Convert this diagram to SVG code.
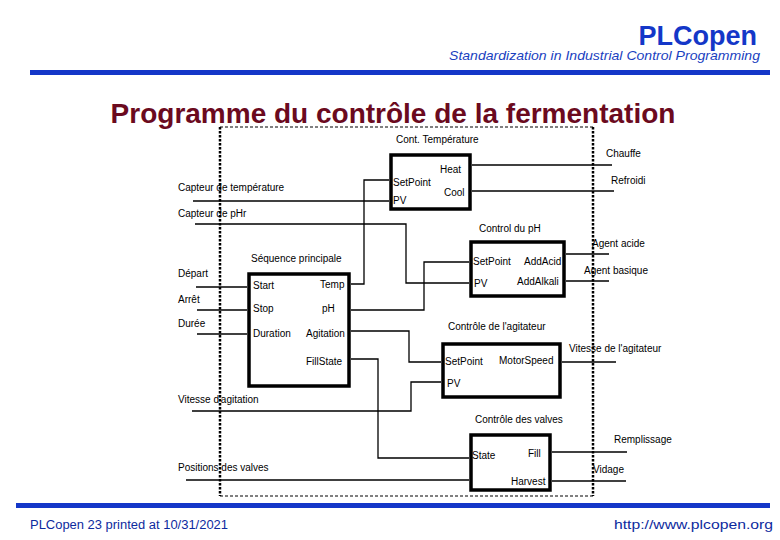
<svg xmlns="http://www.w3.org/2000/svg" width="780" height="540" viewBox="0 0 780 540">
<style>
.lbl{font-family:"Liberation Sans",Arial,sans-serif;font-size:10px;fill:#000}
.blk{fill:none;stroke:#000;stroke-width:3.5}
.w{fill:none;stroke:#000;stroke-width:1.3}
.fh{fill:none;stroke:#000;stroke-width:1;stroke-dasharray:3,2}
.fv{fill:none;stroke:#000;stroke-width:2.5;stroke-dasharray:2.5,1.5}
</style>
<rect width="780" height="540" fill="#fff"/>
<g id="header">
<text x="757" y="45" text-anchor="end" font-family="'Liberation Sans',Arial,sans-serif" font-size="27" font-weight="bold" fill="#1437c8">PLCopen</text>
<text x="760" y="60" text-anchor="end" font-family="'Liberation Sans',Arial,sans-serif" font-size="13" font-style="italic" fill="#1a3fbf" textLength="311" lengthAdjust="spacingAndGlyphs">Standardization in Industrial Control Programming</text>
<rect x="30" y="70" width="740" height="5" fill="#1437c8"/>
<text x="393" y="123" text-anchor="middle" font-family="'Liberation Sans',Arial,sans-serif" font-size="28" font-weight="bold" fill="#6b0a1e">Programme du contrôle de la fermentation</text>
</g>
<g id="frame">
<path class="fh" d="M220 127 H593 M220 496 H593"/>
<path class="fv" d="M220 127 V496 M593 127 V496"/>
</g>
<g id="connectors">
<path class="w" d="M193 201 H389"/>
<path class="w" d="M195 224 H406 V283 H469"/>
<path class="w" d="M351 284 H364 V180 H389"/>
<path class="w" d="M472 165 H612"/>
<path class="w" d="M472 191 H614"/>
<path class="w" d="M351 310 H424 V262 H469"/>
<path class="w" d="M566 254 H609"/>
<path class="w" d="M566 281 H609"/>
<path class="w" d="M196 287 H247"/>
<path class="w" d="M197 310 H247"/>
<path class="w" d="M197 334 H247"/>
<path class="w" d="M351 331 H409 V362 H441"/>
<path class="w" d="M192 411 H411 V382 H441"/>
<path class="w" d="M562 362 H616"/>
<path class="w" d="M351 359 H378 V458 H469"/>
<path class="w" d="M186 480 H469"/>
<path class="w" d="M552 452 H627"/>
<path class="w" d="M552 481 H626"/>
</g>
<g id="io-labels">
<text class="lbl" x="178" y="191">Capteur de température</text>
<text class="lbl" x="178" y="217">Capteur de pHr</text>
<text class="lbl" x="606" y="157">Chauffe</text>
<text class="lbl" x="611" y="184">Refroidi</text>
<text class="lbl" x="592" y="247">Agent acide</text>
<text class="lbl" x="584" y="274">Agent basique</text>
<text class="lbl" x="178" y="277">Départ</text>
<text class="lbl" x="178" y="303">Arrêt</text>
<text class="lbl" x="178" y="327">Durée</text>
<text class="lbl" x="569" y="352">Vitesse de l'agitateur</text>
<text class="lbl" x="178" y="403">Vitesse d'agitation</text>
<text class="lbl" x="614" y="443">Remplissage</text>
<text class="lbl" x="593" y="473">Vidage</text>
<text class="lbl" x="178" y="471">Positions des valves</text>
</g>
<g id="cont-temperature">
<text class="lbl" x="396" y="143">Cont. Température</text>
<rect class="blk" x="391" y="155" width="79" height="54"/>
<text class="lbl" x="440" y="173">Heat</text>
<text class="lbl" x="393" y="186">SetPoint</text>
<text class="lbl" x="444" y="196">Cool</text>
<text class="lbl" x="393" y="204">PV</text>
</g>
<g id="control-ph">
<text class="lbl" x="479" y="232">Control du pH</text>
<rect class="blk" x="471" y="242" width="93" height="54"/>
<text class="lbl" x="473" y="265">SetPoint</text>
<text class="lbl" x="474" y="287">PV</text>
<text class="lbl" x="524" y="265">AddAcid</text>
<text class="lbl" x="517" y="285">AddAlkali</text>
</g>
<g id="sequence-principale">
<text class="lbl" x="251" y="262">Séquence principale</text>
<rect class="blk" x="249" y="274" width="100" height="112"/>
<text class="lbl" x="253" y="289">Start</text>
<text class="lbl" x="320" y="288">Temp</text>
<text class="lbl" x="253" y="312">Stop</text>
<text class="lbl" x="322" y="312">pH</text>
<text class="lbl" x="253" y="337">Duration</text>
<text class="lbl" x="306" y="337">Agitation</text>
<text class="lbl" x="306" y="365">FillState</text>
</g>
<g id="controle-agitateur">
<text class="lbl" x="448" y="330">Contrôle de l'agitateur</text>
<rect class="blk" x="443" y="344" width="117" height="53"/>
<text class="lbl" x="445" y="365">SetPoint</text>
<text class="lbl" x="447" y="387">PV</text>
<text class="lbl" x="499" y="364">MotorSpeed</text>
</g>
<g id="controle-valves">
<text class="lbl" x="475" y="423">Contrôle des valves</text>
<rect class="blk" x="471" y="435" width="79" height="55"/>
<text class="lbl" x="472" y="459">State</text>
<text class="lbl" x="528" y="457">Fill</text>
<text class="lbl" x="511" y="485">Harvest</text>
</g>
<g id="footer">
<rect x="16" y="503" width="754" height="5" fill="#1437c8"/>
<text x="30" y="529" font-family="'Liberation Sans',Arial,sans-serif" font-size="12" fill="#0d2a9e" textLength="198" lengthAdjust="spacingAndGlyphs">PLCopen  23  printed at 10/31/2021</text>
<text x="773" y="529" text-anchor="end" font-family="'Liberation Sans',Arial,sans-serif" font-size="12" fill="#0d2a9e" textLength="159" lengthAdjust="spacingAndGlyphs">http://www.plcopen.org</text>
</g>
</svg>
